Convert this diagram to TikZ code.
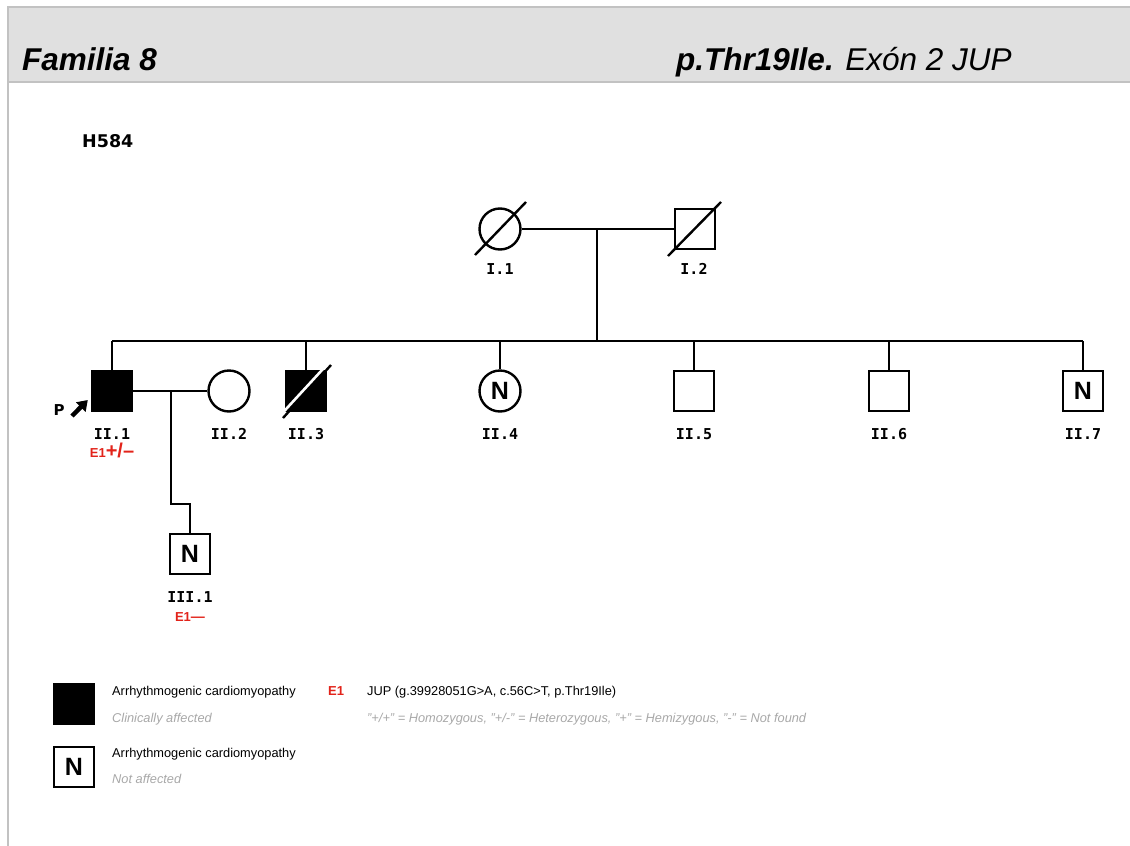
\documentclass[tikz,border=0pt]{standalone}
\usepackage{fontspec}
\setmainfont{Liberation Sans}
\newfontfamily\verdfont{DejaVu Sans}
\newfontfamily\idfont{DejaVu Sans Mono}
\usetikzlibrary{arrows.meta,positioning,calc}
\definecolor{hdr-fill}{HTML}{E0E0E0}
\definecolor{hdr-line}{HTML}{C2C2C2}
\definecolor{var-red}{HTML}{E2231A}
\definecolor{note-gray}{HTML}{A8A8A8}

\begin{document}
\begin{tikzpicture}[x=1pt,y=-1pt,
 male/.style={draw, line width=2.4pt, minimum size=40pt, inner sep=0, font=\bfseries\fontsize{25}{25}\selectfont},
 female/.style={male, circle, minimum size=41pt},
 aff/.style={fill=black},
 idl/.style={font=\idfont\bfseries\fontsize{15}{15}\selectfont, anchor=base, inner sep=0.5pt},
 gt/.style={text=var-red, font=\bfseries\fontsize{13}{13}\selectfont, anchor=base, inner sep=0.5pt},
 rel/.style={line width=2.4pt},
 legtxt/.style={font=\fontsize{12.8}{13}\selectfont, anchor=base west, inner sep=0},
 legnote/.style={legtxt, text=note-gray, font=\itshape\fontsize{12.8}{13}\selectfont},
]
 \useasboundingbox (0,0) rectangle (1130,846);
 % header band and frame
 \fill[hdr-fill] (8,7) rectangle (1130,82);
 \draw[hdr-line, line width=2.5pt] (8,7) -- (1130,7);
 \draw[hdr-line, line width=1.5pt] (8,82) -- (1130,82);
 \draw[hdr-line, line width=2.5pt] (8,6) -- (8,846);
 \node[font=\bfseries\itshape\fontsize{31.5}{32}\selectfont, anchor=base west, inner sep=0] (fam) at (22,70) {Familia 8};
 \node[font=\itshape\fontsize{31.5}{32}\selectfont, anchor=base west, inner sep=0] (mut) at (676,70) {\bfseries p.Thr19Ile.\mdseries{} Exón 2 JUP};
 \node[font=\verdfont\bfseries\fontsize{17.5}{18}\selectfont, anchor=base west, inner sep=0] (fid) at (82,147) {H584};

 % generation I
 \node[female] (I1) at (500,229) {};
 \node[male] (I2) at (695,229) {};
 \draw[rel] ($(I1)+(-25,26)$) -- ($(I1)+(26,-27)$);
 \draw[rel] ($(I2)+(-27,27)$) -- ($(I2)+(26,-27)$);
 \node[idl] at (500,274) {I.1};
 \node[idl] at (694,274) {I.2};
 \draw[rel] (I1.east) -- (I2.west);
 \coordinate (par) at (597,229);
 \coordinate (sib) at (597,341);
 \draw[rel] (par) -- (sib);

 % generation II
 \node[male, aff] (II1) at (112,391) {};
 \node[female] (II2) at (229,391) {};
 \node[male, aff] (II3) at (306,391) {};
 \node[female] (II4) at (500,391) {N};
 \node[male] (II5) at (694,391) {};
 \node[male] (II6) at (889,391) {};
 \node[male] (II7) at (1083,391) {N};
 \draw[rel] (II1 |- sib) -- (II7 |- sib);
 \foreach \k in {II1,II3,II4,II5,II6,II7}{\draw[rel] (\k.north) -- (\k |- sib);}
 \draw[white, line width=2.6pt] ($(II3)+(-25.2,23.8)$) -- ($(II3)+(20.8,-26.2)$);
 \draw[line width=2.4pt] ($(II3)+(-23,27)$) -- ($(II3)+(25,-26)$);
 \foreach \k/\x in {II.1/112, II.2/229, II.3/306, II.4/500, II.5/694, II.6/889, II.7/1083}{
   \node[idl] at (\x,439) {\k};}
 \node[gt] at (112,457) {E1\fontsize{20}{20}\selectfont+/–};

 % proband
 \node[font=\verdfont\bfseries\fontsize{15}{15}\selectfont] (P) at (59,410) {P};
 \coordinate (ptail) at (72,416);
 \draw[-{Triangle[length=10pt,width=13pt]}, line width=4.5pt] (ptail) -- ($(II1.west)+(-3,9)$);

 % generation III
 \draw[rel] (II1.east) -- (II2.west);
 \coordinate (cpl) at (171,391);
 \coordinate (kink) at (171,504);
 \node[male] (III1) at (190,554) {N};
 \draw[rel] (cpl) -- (kink) -| (III1.north);
 \node[idl] at (190,602) {III.1};
 \node[gt] at (190,621) {E1\fontsize{14}{14}\selectfont—};

 % legend
 \node[male, aff] (lgA) at (74,704) {};
 \node[male] (lgN) at (74,767) {N};
 \node[legtxt] at (112,695) {Arrhythmogenic cardiomyopathy};
 \node[legnote] at (112,722) {Clinically affected};
 \node[legtxt] at (112,757) {Arrhythmogenic cardiomyopathy};
 \node[legnote] at (112,783) {Not affected};
 \node[gt, anchor=base west, inner sep=0, font=\bfseries\fontsize{13}{13}\selectfont] at (328,695) {E1};
 \node[legtxt] at (367,695) {JUP (g.39928051G>A, c.56C>T, p.Thr19Ile)};
 \node[legnote] at (367,722) {"+/+" = Homozygous, "+/-" = Heterozygous, "+" = Hemizygous, "-" = Not found};
\end{tikzpicture}
\end{document}
